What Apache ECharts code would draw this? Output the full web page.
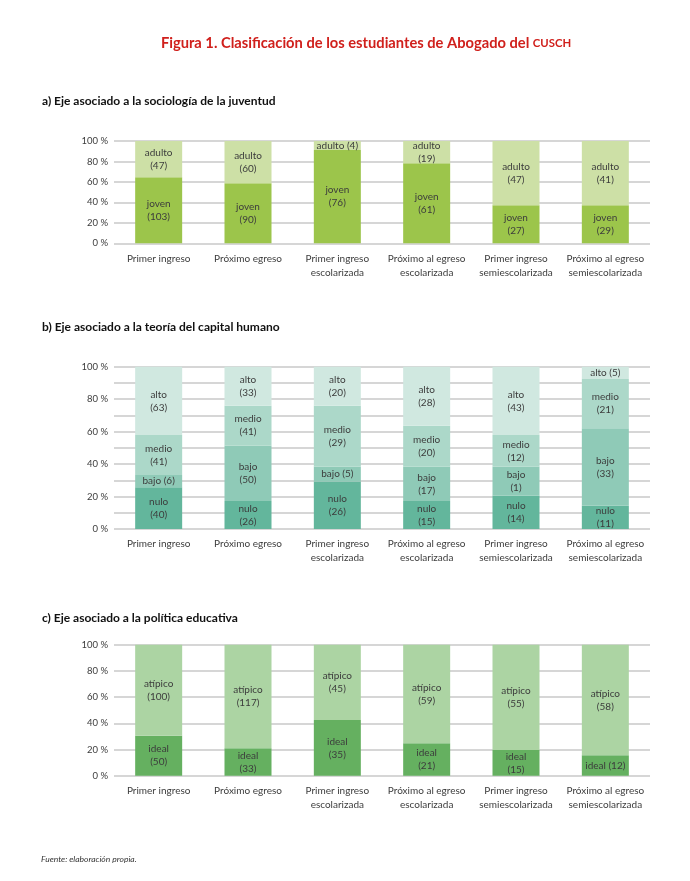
<!DOCTYPE html>
<html>
<head>
<meta charset="utf-8">
<script src="https://cdn.jsdelivr.net/npm/echarts@6/dist/echarts.min.js"></script>
<style>
html,body{margin:0;padding:0;background:#fff;}
#chart{width:690px;height:881px;}
</style>
</head>
<body>
<div id="chart"></div>
<script>
// ---- data ----
const categories = ['Primer ingreso', 'Próximo egreso', 'Primer ingreso\nescolarizada', 'Próximo al egreso\nescolarizada', 'Primer ingreso\nsemiescolarizada', 'Próximo al egreso\nsemiescolarizada'];
const yTicks = [0, 20, 40, 60, 80, 100];

// a) sociología de la juventud (percent heights, counts from labels)
const jovenPct  = [64.5, 58.6, 91.2, 78.2, 37.1, 37.1];
const adultoPct = [35.5, 41.4, 8.8, 21.8, 62.9, 62.9];
const jovenN  = [103, 90, 76, 61, 27, 29];
const adultoN = [47, 60, 4, 19, 47, 41];

// b) teoría del capital humano
const nuloPct  = [25.7, 17.3, 29.2, 17.3, 20.5, 14.4];
const bajoPct  = [7.6, 34.0, 9.2, 21.1, 17.9, 47.6];
const medioPct = [24.6, 24.7, 37.6, 25.2, 19.5, 30.4];
const altoPct  = [42.1, 24.0, 24.0, 36.4, 42.1, 7.6];
const nuloN  = [40, 26, 26, 15, 14, 11];
const bajoN  = [6, 50, 5, 17, 1, 33];
const medioN = [41, 41, 29, 20, 12, 21];
const altoN  = [63, 33, 20, 28, 43, 5];

// c) política educativa
const idealPct   = [30.5, 20.9, 42.5, 24.7, 19.6, 15.6];
const atipicoPct = [69.5, 79.1, 57.5, 75.3, 80.4, 84.4];
const idealN   = [50, 33, 35, 21, 15, 12];
const atipicoN = [100, 117, 45, 59, 55, 58];

// ---- rendering ----
const FONT = 'Lato';
const gridColor = '#c9c9c9';
const txt = '#3c3c3c';

// labels shown on a single line
const inlineLabels = {'adulto': [2], 'bajo': [0, 2], 'alto': [5], 'ideal': [5]};

function mkSeries(name, pct, counts, color, gi, stack) {
  return {
    name: name, type: 'bar', stack: stack, xAxisIndex: gi, yAxisIndex: gi,
    data: pct, barWidth: 47,
    itemStyle: {color: color},
    label: {
      show: true, position: 'inside', color: txt, fontFamily: FONT, fontSize: 10, lineHeight: 13,
      formatter: function (p) {
        const inl = (inlineLabels[name] || []).indexOf(p.dataIndex) >= 0;
        return name + (inl ? ' ' : '\n') + '(' + counts[p.dataIndex] + ')';
      }
    },
    emphasis: {disabled: true}, silent: true, animation: false
  };
}

const grids = [
  {left: 114, right: 40, top: 141, height: 102.3},
  {left: 114, right: 40, top: 366.7, height: 162.3},
  {left: 114, right: 40, top: 644.7, height: 131}
];

function xAx(gi) {
  return {
    type: 'category', gridIndex: gi, data: categories,
    axisLine: {show: false}, axisTick: {show: false},
    axisLabel: {color: txt, fontFamily: FONT, fontSize: 10, lineHeight: 14, margin: 8, interval: 0}
  };
}
function yAx(gi, step) {
  return {
    type: 'value', gridIndex: gi, min: yTicks[0], max: yTicks[yTicks.length - 1], interval: step,
    axisLine: {show: false}, axisTick: {show: false},
    splitLine: {lineStyle: {color: gridColor, width: 1.5}},
    axisLabel: {
      color: txt, fontFamily: FONT, fontSize: 9.5, margin: 6,
      formatter: function (v) { return yTicks.indexOf(v) >= 0 ? v + ' %' : ''; }
    }
  };
}

const chart = echarts.init(document.getElementById('chart'), null, {renderer: 'canvas'});
chart.setOption({
  backgroundColor: '#fff',
  animation: false,
  title: [
    {text: 'Figura 1. Clasificación de los estudiantes de Abogado del {sc|CUSCH}', left: 361, top: 31, textAlign: 'center',
      textStyle: {color: '#d0201c', fontFamily: FONT, fontWeight: 'bold', fontSize: 14.7,
        rich: {sc: {color: '#d0201c', fontFamily: FONT, fontWeight: 'bold', fontSize: 11.3}}}},
    {text: 'a) Eje asociado a la sociología de la juventud', left: 37, top: 90,
      textStyle: {color: '#111', fontFamily: FONT, fontWeight: 'bold', fontSize: 12}},
    {text: 'b) Eje asociado a la teoría del capital humano', left: 37, top: 316,
      textStyle: {color: '#111', fontFamily: FONT, fontWeight: 'bold', fontSize: 12}},
    {text: 'c) Eje asociado a la política educativa', left: 37, top: 607,
      textStyle: {color: '#111', fontFamily: FONT, fontWeight: 'bold', fontSize: 12}},
    {text: 'Fuente: elaboración propia.', left: 36, top: 850,
      textStyle: {color: '#333', fontFamily: FONT, fontStyle: 'italic', fontWeight: 'normal', fontSize: 8.5}}
  ],
  grid: grids,
  xAxis: [xAx(0), xAx(1), xAx(2)],
  yAxis: [yAx(0, 20), yAx(1, 10), yAx(2, 20)],
  series: [
    mkSeries('joven', jovenPct, jovenN, '#9cc54b', 0, 'a'),
    mkSeries('adulto', adultoPct, adultoN, '#cde0a6', 0, 'a'),
    mkSeries('nulo', nuloPct, nuloN, '#63b69c', 1, 'b'),
    mkSeries('bajo', bajoPct, bajoN, '#8fcab7', 1, 'b'),
    mkSeries('medio', medioPct, medioN, '#acd8c9', 1, 'b'),
    mkSeries('alto', altoPct, altoN, '#d0e8e0', 1, 'b'),
    mkSeries('ideal', idealPct, idealN, '#65b060', 2, 'c'),
    mkSeries('atípico', atipicoPct, atipicoN, '#acd4a3', 2, 'c')
  ]
});
</script>
</body>
</html>
